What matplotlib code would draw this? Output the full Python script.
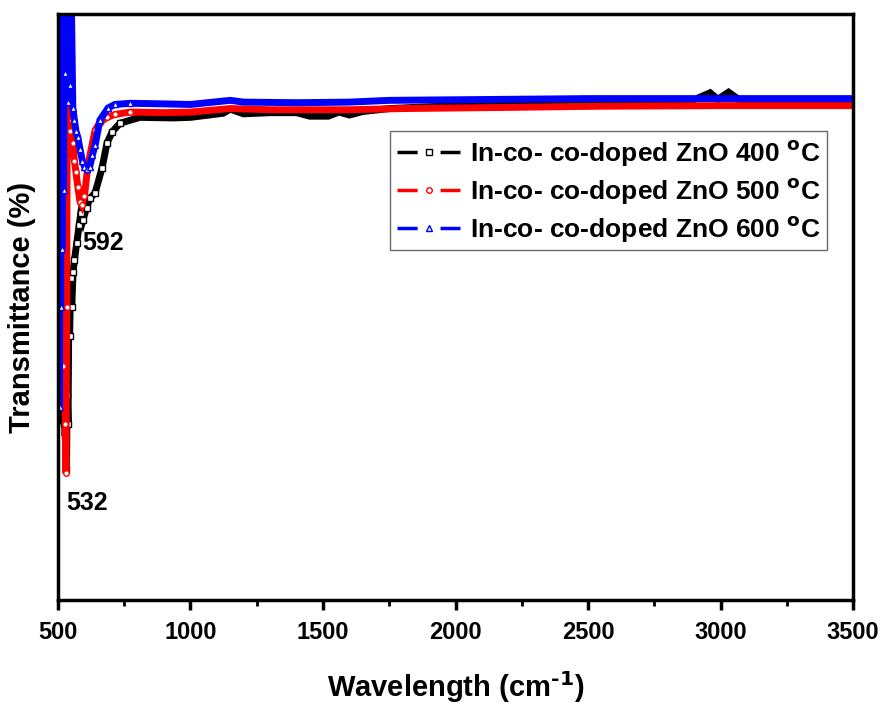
import numpy as np
import matplotlib
matplotlib.use("Agg")
import matplotlib.pyplot as plt
from matplotlib.lines import Line2D

plt.rcParams['font.family'] = ['Liberation Sans', 'DejaVu Sans']
plt.rcParams['font.weight'] = 'bold'

# ---- data (wavenumber cm^-1, transmittance a.u.) ----
wn_400 = [500, 503, 506, 509, 512, 515, 518, 521, 524, 527, 530, 532, 535, 538,
          541, 544, 548, 552, 557, 562, 571, 580, 586, 594, 608, 621, 640, 666,
          685, 704, 734, 809, 934, 1000, 1123, 1150, 1200, 1300, 1400, 1450,
          1520, 1560, 1600, 1650, 1750, 2000, 2300, 2500, 2700, 2900, 2960,
          2990, 3030, 3070, 3200, 3500]
t_400 = [105, 60, 104, 45, 104, 35, 90, 30, 70, 28, 40, 22.2, 35, 30,
         50, 45, 55, 50, 56, 58, 61, 64, 66, 64.8, 67, 68.6, 69.5, 73.7,
         78.0, 79.9, 81.4, 82.4, 82.3, 82.4, 83.1, 83.8, 83.0, 83.2, 83.2, 82.6,
         82.6, 83.3, 82.8, 83.4, 83.9, 84.4, 84.9, 85.2, 85.3, 85.4, 86.6,
         85.5, 86.7, 85.4, 85.3, 85.3]

wn_500 = [500, 504, 508, 512, 516, 520, 524, 528, 530, 533, 536, 540, 544, 548,
          552, 556, 562, 568, 575, 583, 590, 600, 613, 640, 658, 685, 715, 772,
          900, 1000, 1150, 1300, 1600, 1800, 2200, 2545, 3000, 3500]
t_500 = [105, 80, 104, 60, 104, 40, 90, 30, 21.7, 50, 104, 104, 80, 104,
         82, 78, 75, 73, 70.5, 68, 67.4, 69, 74.2, 80.2, 81.5, 82.4, 82.9, 83.3,
         83.2, 83.3, 83.9, 83.7, 83.7, 83.9, 84.1, 84.3, 84.4, 84.4]

wn_600 = [500, 502, 504, 506, 508, 510, 512, 515, 518, 521, 524, 528, 532, 536,
          540, 545, 550, 556, 562, 568, 575, 583, 592, 600, 610, 620, 630, 640,
          658, 689, 715, 772, 900, 1000, 1150, 1200, 1400, 1600, 1750, 2000,
          2500, 3000, 3500]
t_600 = [105, 40, 104, 33, 104, 50, 104, 60, 104, 70, 104, 90, 104, 85,
         104, 88, 104, 84, 82, 80, 79, 77, 75, 74, 73.5, 74, 76, 77.6,
         81.9, 84.0, 84.6, 84.8, 84.7, 84.6, 85.3, 85.0, 84.9, 85.0, 85.3, 85.4,
         85.6, 85.6, 85.6]

labels = ['In-co- co-doped ZnO 400 $\\mathbf{^{o}}$C',
          'In-co- co-doped ZnO 500 $\\mathbf{^{o}}$C',
          'In-co- co-doped ZnO 600 $\\mathbf{^{o}}$C']
colors = ['black', 'red', 'blue']
markers = ['s', 'o', '^']
series = [(wn_400, t_400), (wn_500, t_500), (wn_600, t_600)]

fig = plt.figure(figsize=(8.85, 7.13), dpi=100)
ax = fig.add_axes([0.0655, 0.1585, 0.8985, 0.8215])

handles = []
for (wn, t), c, m in zip(series, colors, markers):
    wn = np.array(wn)
    ax.plot(wn, t, color=c, lw=5, marker=m, ms=4, mfc='white', mec=c,
            mew=1, markevery=list(wn < 800), solid_joinstyle='miter')
    # Origin-style legend symbol: dash - marker - dash
    dash = Line2D([], [], color=c, lw=2.5, linestyle=(0, (5.8, 6.6)))
    mk = Line2D([], [], color=c, lw=0, marker=m, ms=4, mfc='white', mec=c, mew=1)
    handles.append((dash, mk))

ax.set_xlim(500, 3500)
ax.set_ylim(0, 100)
ax.set_xticks(np.arange(500, 3501, 500))
ax.set_xticks(np.arange(750, 3500, 500), minor=True)
ax.set_yticks([])
ax.tick_params(axis='x', which='major', direction='out', length=7, width=2.5,
               labelsize=17, pad=8)
ax.tick_params(axis='x', which='minor', direction='out', length=4, width=2)
for sp in ax.spines.values():
    sp.set_linewidth(2.5)

ax.set_xlabel('Wavelength (cm$\\mathbf{^{\\text{-}1}}$)', fontsize=21,
              fontweight='bold', labelpad=18)
ax.set_ylabel('Transmittance (%)', fontsize=21, fontweight='bold', labelpad=16)

ax.text(592, 61, '592', fontsize=18, fontweight='bold', ha='left', va='center')
ax.text(532, 16.5, '532', fontsize=18, fontweight='bold', ha='left', va='center')

leg = ax.legend(handles, labels, loc='upper left', bbox_to_anchor=(0.418, 0.8),
                fontsize=19, frameon=True, fancybox=False, handlelength=2.4,
                handletextpad=0.35, borderpad=0.25, labelspacing=0.3,
                borderaxespad=0)
leg.get_frame().set_edgecolor('#444444')
leg.get_frame().set_linewidth(1)

fig.savefig('out.png', dpi=100)
